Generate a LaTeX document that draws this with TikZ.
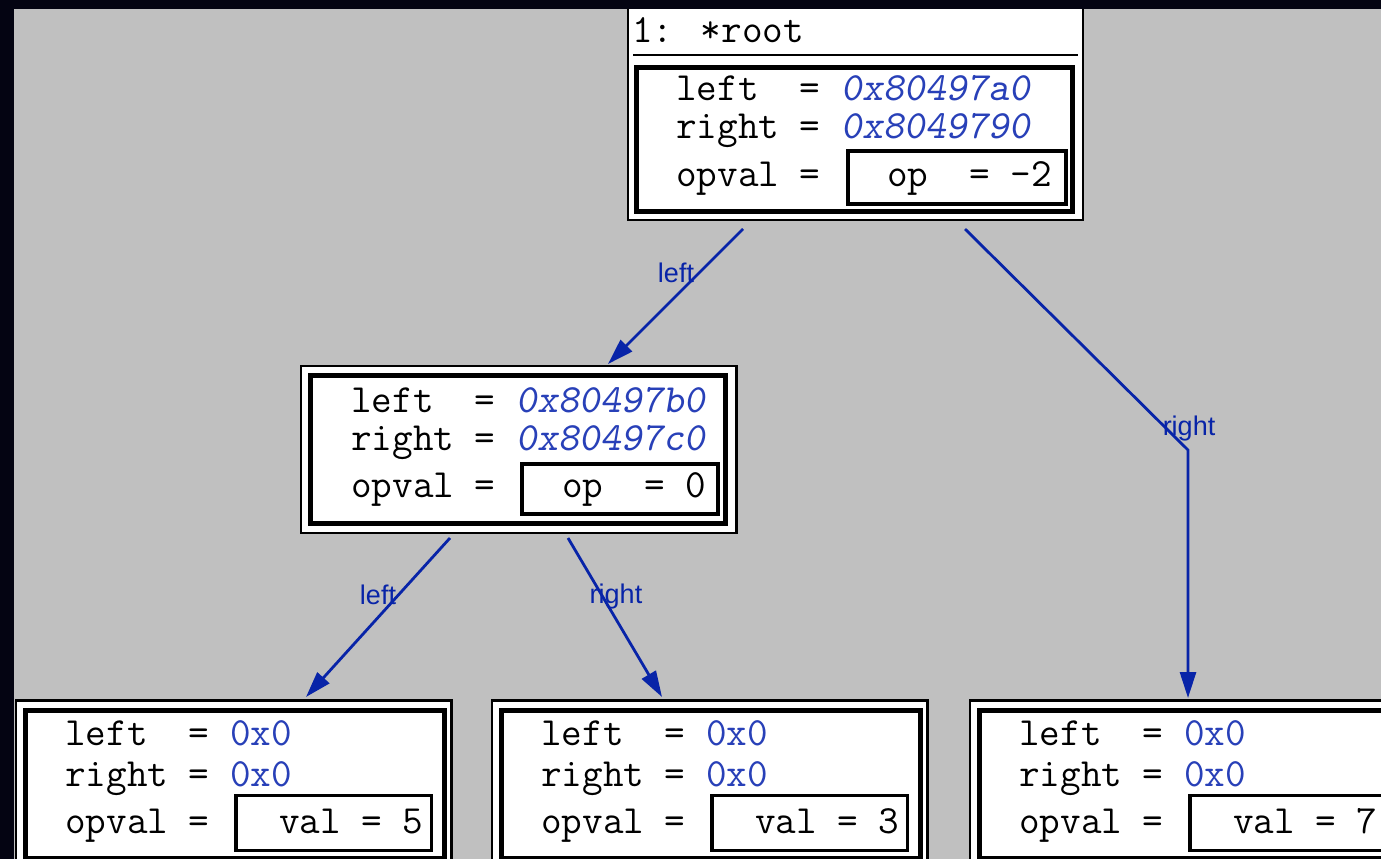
\documentclass[tikz,border=0pt]{standalone}
\usepackage{fontspec}
\newfontfamily\lblfont{Liberation Sans}
\usetikzlibrary{arrows.meta,calc}
\definecolor{bg}{RGB}{192,192,192}
\definecolor{framecol}{RGB}{4,4,18}
\definecolor{edgeblue}{RGB}{8,36,168}
\definecolor{valblue}{RGB}{40,64,184}
\newcommand\fieldfont{\ttfamily\fontsize{40}{40}\selectfont}
\newcommand\hexv[1]{\textcolor{valblue}{\slshape #1}}
\newcommand\ptrv[1]{\textcolor{valblue}{#1}}
\tikzset{
  outerbox/.style={draw=black, fill=white, line width=2.5pt, rectangle, inner sep=0pt, outer sep=0pt},
  innerbox/.style={draw=black, line width=5pt, rectangle, inner sep=0pt, outer sep=0pt},
  subbox/.style={draw=black, line width=3.5pt, rectangle, inner sep=0pt, outer sep=0pt},
  field/.style={anchor=base west, inner sep=0pt, font=\fieldfont},
  edgelbl/.style={anchor=base, inner sep=0pt, text=edgeblue, font=\lblfont\fontsize{27}{27}\selectfont},
  link/.style={draw=edgeblue, line width=2.8pt, -{Triangle[length=26pt,width=16pt]}},
  sepline/.style={draw=black, line width=2pt}
}
\begin{document}
\begin{tikzpicture}[x=1pt,y=-1pt]
\useasboundingbox (0,0) rectangle (1381,859);
\fill[bg] (0,0) rectangle (1381,859);

% ---- root ----
\node[outerbox, minimum width=455, minimum height=224] (root) at (855.5,108) {};
\node[field] (rootT) at (632,43) {1: *root};
\draw[sepline] (633,55) -- (1078,55);
\node[innerbox, minimum width=435.5, minimum height=143.5] (rootI) at (854.25,139.25) {};
\node[field] (rootL) at (676,100) {left\ \ = \hexv{0x80497a0}};
\node[field] (rootR) at (676,138) {right = \hexv{0x8049790}};
\node[field] (rootO) at (676,186) {opval =};
\node[subbox, minimum width=218, minimum height=53] (rootS) at (957,177.5) {};
\node[field] (rootSt) at (887,186) {op\ \ = -2};

% ---- middle ----
\node[outerbox, minimum width=435.5, minimum height=167] (mid) at (518.75,449.5) {};
\node[innerbox, minimum width=414.5, minimum height=147.5] (midI) at (517.75,449.25) {};
\node[field] (midL) at (351,412) {left\ \ = \hexv{0x80497b0}};
\node[field] (midR) at (351,450) {right = \hexv{0x80497c0}};
\node[field] (midO) at (351,497) {opval =};
\node[subbox, minimum width=196, minimum height=50] (midS) at (620,489) {};
\node[field] (midSt) at (562,497) {op\ \ = 0};

% ---- bottom left ----
\node[outerbox, minimum width=435.5, minimum height=167] (bl) at (233.75,784) {};
\node[innerbox, minimum width=419, minimum height=147.5] (blI) at (234.5,784.25) {};
\node[field] (blL) at (65,745) {left\ \ = \ptrv{0x0}};
\node[field] (blR) at (65,786) {right = \ptrv{0x0}};
\node[field] (blO) at (65,833) {opval =};
\node[subbox, minimum width=195.5, minimum height=55] (blS) at (333.75,823) {};
\node[field] (blSt) at (279,833) {val = 5};

% ---- bottom middle ----
\node[outerbox, minimum width=435.5, minimum height=167] (bm) at (709.75,784) {};
\node[innerbox, minimum width=419, minimum height=147.5] (bmI) at (710.5,784.25) {};
\node[field] (bmL) at (541,745) {left\ \ = \ptrv{0x0}};
\node[field] (bmR) at (541,786) {right = \ptrv{0x0}};
\node[field] (bmO) at (541,833) {opval =};
\node[subbox, minimum width=195.5, minimum height=55] (bmS) at (809.75,823) {};
\node[field] (bmSt) at (755,833) {val = 3};

% ---- bottom right ----
\node[outerbox, minimum width=435.5, minimum height=167] (br) at (1187.75,784) {};
\node[innerbox, minimum width=419, minimum height=147.5] (brI) at (1188.5,784.25) {};
\node[field] (brL) at (1019,745) {left\ \ = \ptrv{0x0}};
\node[field] (brR) at (1019,786) {right = \ptrv{0x0}};
\node[field] (brO) at (1019,833) {opval =};
\node[subbox, minimum width=195.5, minimum height=55] (brS) at (1287.75,823) {};
\node[field] (brSt) at (1233,833) {val = 7};

% ---- connectors ----
\draw[link] ($(root.south)+(-112.5,9)$) -- ($(mid.north)+(89.25,-2)$);
\draw[link] ($(root.south)+(109.5,9)$) -- ($(br.north)+(0.25,-250.5)$) -- ($(br.north)+(0.25,-2.5)$);
\draw[link] ($(mid.south)+(-68.75,5)$) -- ($(bl.north)+(72.25,-3.5)$);
\draw[link] ($(mid.south)+(49.25,5)$) -- ($(bm.north)+(-47.75,-3.5)$);

\node[edgelbl] (lblA) at (676,282) {left};
\node[edgelbl] (lblB) at (1189,435) {right};
\node[edgelbl] (lblC) at (378,604) {left};
\node[edgelbl] (lblD) at (616,603) {right};

% ---- window frame ----
\fill[framecol] (0,0) rectangle (1381,9.5);
\fill[framecol] (0,0) rectangle (14,859);
\end{tikzpicture}
\end{document}
